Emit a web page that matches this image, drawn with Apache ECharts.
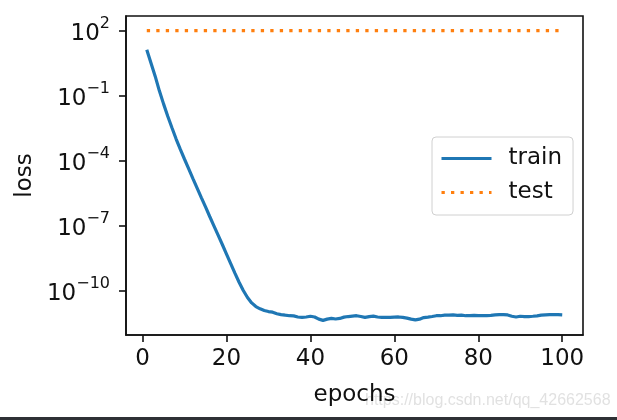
<!DOCTYPE html>
<html>
<head>
<meta charset="utf-8">
<script src="https://cdn.jsdelivr.net/npm/echarts@6/dist/echarts.min.js"></script>
<style>
  html, body { margin: 0; padding: 0; background: #fff; }
  #box { width: 617px; height: 420px; }
</style>
</head>
<body>
<div id="box"></div>
<script>
// epochs 1..100 (x positions only)
var epochs = Array.from({ length: 100 }, function (_, i) { return i + 1; });

// train loss, one value per epoch
var trainLoss = [
  1.29e1, 3.16e0, 7.9e-1, 1.66e-1, 4.17e-2, 1.12e-2, 3.31e-3, 1.0e-3, 3.31e-4, 1.17e-4,
  4.17e-5, 1.51e-5, 5.5e-6, 2.0e-6, 7.4e-7, 2.69e-7, 1.0e-7, 3.7e-8, 1.38e-8, 5.0e-9,
  1.82e-9, 6.6e-10, 2.5e-10, 1.05e-10, 5.0e-11, 2.8e-11, 1.9e-11, 1.5e-11, 1.26e-11, 1.12e-11,
  1.05e-11, 8.9e-12, 8.1e-12, 7.6e-12, 7.2e-12, 7.1e-12, 6.3e-12, 6.0e-12, 6.3e-12, 6.8e-12,
  6.3e-12, 5.0e-12, 4.4e-12, 5.0e-12, 5.4e-12, 5.1e-12, 5.4e-12, 6.2e-12, 6.6e-12, 6.9e-12,
  7.2e-12, 6.6e-12, 6.0e-12, 6.5e-12, 6.9e-12, 6.3e-12, 6.0e-12, 6.0e-12, 6.0e-12, 6.2e-12,
  6.3e-12, 6.0e-12, 5.6e-12, 5.0e-12, 4.6e-12, 5.0e-12, 5.9e-12, 6.2e-12, 6.6e-12, 7.2e-12,
  7.2e-12, 7.6e-12, 7.6e-12, 7.8e-12, 7.4e-12, 7.6e-12, 7.2e-12, 7.2e-12, 7.4e-12, 7.2e-12,
  7.2e-12, 7.2e-12, 7.4e-12, 7.8e-12, 8.1e-12, 8.1e-12, 7.8e-12, 6.8e-12, 6.3e-12, 6.8e-12,
  6.6e-12, 6.6e-12, 6.8e-12, 7.1e-12, 7.6e-12, 7.9e-12, 8.1e-12, 8.1e-12, 8.1e-12, 7.9e-12
];

// test loss stays flat at 10^2
var testLoss = [
  100, 100, 100, 100, 100, 100, 100, 100, 100, 100,
  100, 100, 100, 100, 100, 100, 100, 100, 100, 100,
  100, 100, 100, 100, 100, 100, 100, 100, 100, 100,
  100, 100, 100, 100, 100, 100, 100, 100, 100, 100,
  100, 100, 100, 100, 100, 100, 100, 100, 100, 100,
  100, 100, 100, 100, 100, 100, 100, 100, 100, 100,
  100, 100, 100, 100, 100, 100, 100, 100, 100, 100,
  100, 100, 100, 100, 100, 100, 100, 100, 100, 100,
  100, 100, 100, 100, 100, 100, 100, 100, 100, 100,
  100, 100, 100, 100, 100, 100, 100, 100, 100, 100
];

var xTicks = [0, 20, 40, 60, 80, 100];
var yTicks = [1e-10, 1e-7, 1e-4, 1e-1, 1e2];

var FONT = "DejaVu Sans";
var INK = "#111";
var BLUE = "#1f77b4";
var ORANGE = "#ff7f0e";
var DOTS = [3.3, 6.2];

function pairs(ys) {
  return epochs.map(function (e, i) { return [e, ys[i]]; });
}

function expOf(v) {
  var e = Math.round(Math.log(v) / Math.LN10);
  return e < 0 ? "−" + (-e) : String(e);
}

var myChart = echarts.init(document.getElementById("box"));
var option = {
  animation: false,
  backgroundColor: "#fff",
  textStyle: { fontFamily: FONT },
  grid: {
    left: 126,
    right: 34,
    top: 16,
    bottom: 85,
    show: true,
    borderColor: INK,
    borderWidth: 1.6,
    containLabel: false
  },
  legend: {
    orient: "vertical",
    left: 432,
    top: 137,
    padding: [10, 11, 11, 8],
    itemGap: 11,
    itemWidth: 50,
    itemHeight: 14,
    borderColor: "#d0d0d0",
    borderWidth: 1,
    borderRadius: 4,
    backgroundColor: "rgba(255,255,255,0.8)",
    itemStyle: { opacity: 0 },
    textStyle: { fontFamily: FONT, fontSize: 23, color: INK, padding: [0, 0, 0, 12] },
    data: [
      { name: "train", lineStyle: { color: BLUE, width: 3, type: "solid" } },
      { name: "test", lineStyle: { color: ORANGE, width: 3, type: DOTS } }
    ]
  },
  xAxis: {
    type: "value",
    min: -3.95,
    max: 104.95,
    name: "epochs",
    nameLocation: "middle",
    nameGap: 49,
    nameTextStyle: { fontFamily: FONT, fontSize: 23, color: INK },
    splitLine: { show: false },
    axisLine: { show: true, onZero: false, lineStyle: { color: INK, width: 1.6 } },
    axisTick: { show: true, inside: false, length: 7, customValues: xTicks, lineStyle: { color: INK, width: 1.6 } },
    axisLabel: { customValues: xTicks, fontFamily: FONT, fontSize: 23, color: INK, margin: 13 }
  },
  yAxis: {
    type: "log",
    logBase: 10,
    min: 9.3e-13,
    max: 468,
    name: "loss",
    nameLocation: "middle",
    nameGap: 89,
    nameTextStyle: { fontFamily: FONT, fontSize: 23, color: INK },
    splitLine: { show: false },
    minorTick: { show: false },
    axisLine: { show: true, onZero: false, lineStyle: { color: INK, width: 1.6 } },
    axisTick: { show: true, inside: false, length: 7, customValues: yTicks, lineStyle: { color: INK, width: 1.6 } },
    axisLabel: {
      customValues: yTicks,
      margin: 16,
      formatter: function (v) {
        return "{b|10}{s|" + expOf(v) + "}";
      },
      rich: {
        b: { fontFamily: FONT, fontSize: 23, color: INK, lineHeight: 30, verticalAlign: "bottom" },
        s: { fontFamily: FONT, fontSize: 16, color: INK, verticalAlign: "top", lineHeight: 18 }
      }
    }
  },
  series: [
    {
      name: "train",
      type: "line",
      data: pairs(trainLoss),
      showSymbol: false,
      symbol: "none",
      lineStyle: { color: BLUE, width: 3.2 },
      itemStyle: { color: BLUE }
    },
    {
      name: "test",
      type: "line",
      data: pairs(testLoss),
      showSymbol: false,
      symbol: "none",
      lineStyle: { color: ORANGE, width: 3.2, type: DOTS },
      itemStyle: { color: ORANGE }
    }
  ],
  graphic: [
    {
      type: "rect",
      left: 0,
      top: 417,
      shape: { width: 617, height: 3 },
      style: { fill: "#2e3135" },
      silent: true
    },
    {
      type: "text",
      left: 365,
      top: 393,
      style: {
        text: "https://blog.csdn.net/qq_42662568",
        fontFamily: "Liberation Sans",
        fontSize: 16,
        fill: "rgba(200,200,200,0.55)"
      },
      silent: true
    }
  ]
};
myChart.setOption(option);
</script>
</body>
</html>
